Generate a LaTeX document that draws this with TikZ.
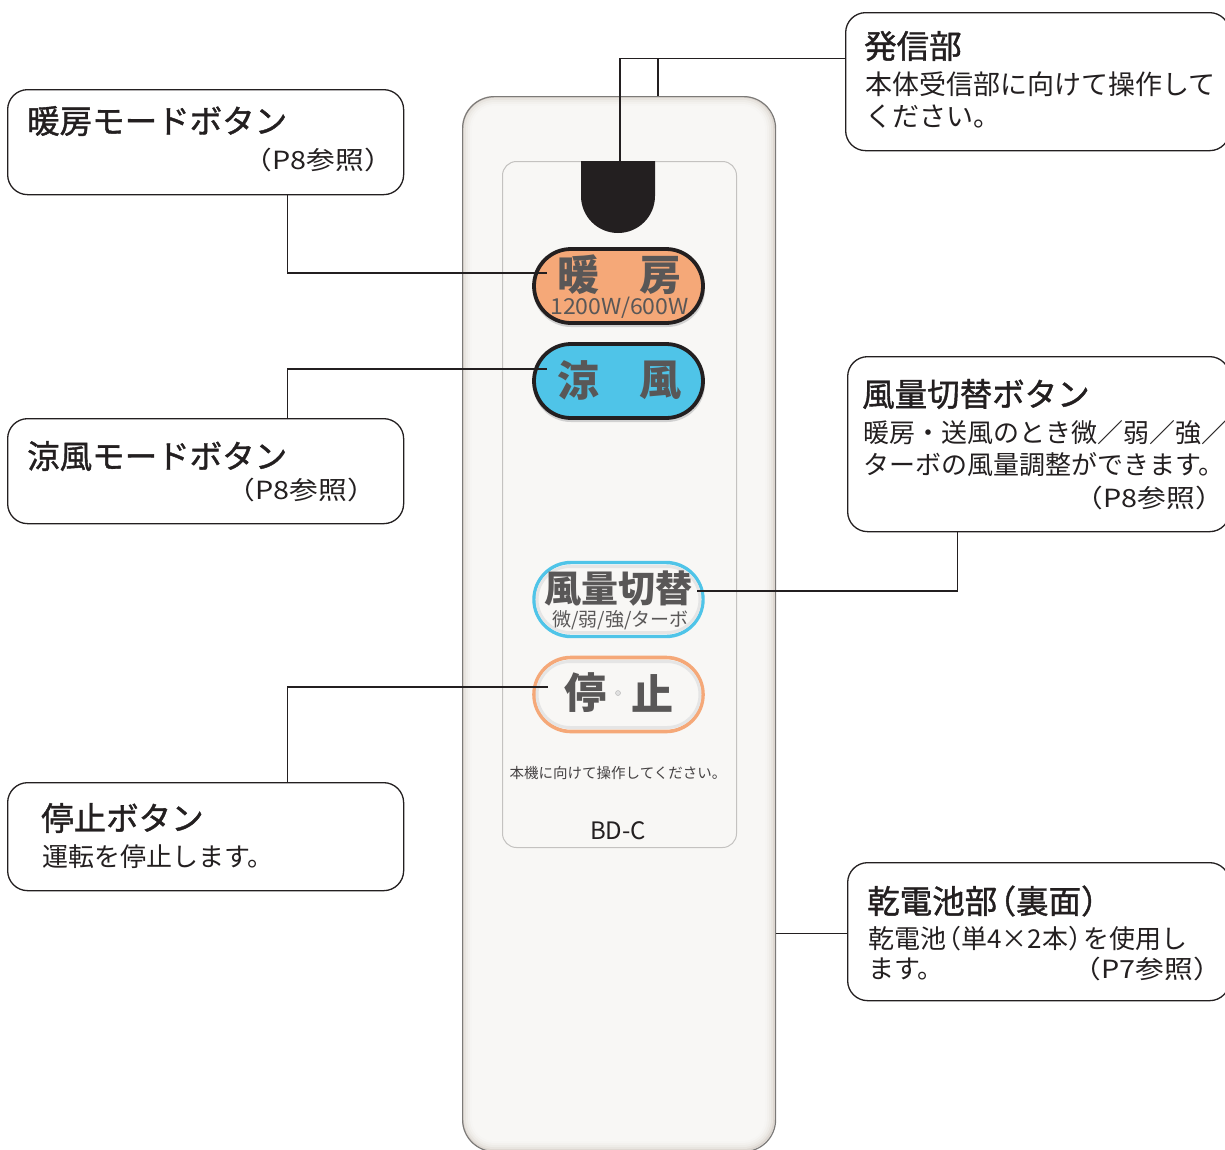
\documentclass[tikz,border=0pt]{standalone}
\usepackage{fontspec}
\setmainfont{Noto Sans CJK JP}
\newfontfamily\jpmed{Noto Sans CJK JP}[FakeBold=1.2]
\newfontfamily\jpwide{Noto Sans CJK JP}[FakeStretch=1.15]
\newfontfamily\jpbtnw{Noto Sans CJK JP}[FakeStretch=1.05]
\newcommand{\lp}{\kern-0.42em（}
\newcommand{\rp}{）\kern-0.42em}
\definecolor{ink}{HTML}{231F20}
\definecolor{btntext}{HTML}{595757}
\definecolor{heatfill}{HTML}{F5A878}
\definecolor{coolfill}{HTML}{4FC4E8}
\definecolor{bodyfill}{HTML}{F8F7F5}
\definecolor{bodyshade}{HTML}{DDD7D1}
\definecolor{bodyedge}{HTML}{7C7A78}
\definecolor{panelline}{HTML}{C4C2C0}
\begin{document}
\begin{tikzpicture}[x=1pt,y=-1pt,
  callout/.style={draw=ink, line width=1.3pt, rounded corners=20pt, fill=white, inner sep=0pt, anchor=north west},
  conn/.style={draw=ink, line width=1.3pt},
  titletxt/.style={font=\jpmed\fontsize{32.5pt}{32.5pt}\selectfont, inner sep=0pt, text=ink, anchor=west},
  bodytxt/.style={font=\fontsize{26pt}{26pt}\selectfont, inner sep=0pt, text=ink, anchor=west},
  reftxt/.style={font=\jpwide\fontsize{25pt}{25pt}\selectfont, inner sep=0pt, text=ink, anchor=east},
  btn/.style={rectangle, rounded corners=37pt, minimum width=169pt, minimum height=74pt, inner sep=0pt},
  bigbtn/.style={font=\bfseries\fontsize{42pt}{42pt}\selectfont, text=btntext, inner sep=0pt},
]
\useasboundingbox (0,0) rectangle (1225,1149);

% ---- remote body with soft inner shading
\foreach \i/\c in {0/0,2/40,4/65,6/82,8/93,10/100}{
  \fill[bodyfill!\c!bodyshade, rounded corners=32pt-\i pt] (462+\i,96+\i) rectangle (775-\i,1151-\i);
}
\node[draw=bodyedge, line width=1.2pt, rounded corners=32pt, minimum width=313pt, minimum height=1055pt, inner sep=0pt, anchor=north west] (body) at (462,96) {};

% inner panel
\node[draw=panelline, line width=1pt, rounded corners=14pt, minimum width=234pt, minimum height=686pt, inner sep=0pt, anchor=north west] (panel) at (502,161) {};

% emitter
\fill[ink] (581,161) -- (581,196) arc[start angle=180, end angle=360, radius=37pt] -- (655,161) -- cycle;
\coordinate (emit) at (620,161);

% ---- buttons
\fill[black!18] (619,289) [rounded corners=38pt] +(-86,-38) rectangle +(86,38);
\fill[black!18] (619,384) [rounded corners=38pt] +(-86,-38) rectangle +(86,38);
\node[btn, fill=heatfill, draw=ink, line width=3.8pt] (heat) at (618.5,286) {};
\node[btn, fill=coolfill, draw=ink, line width=3.8pt] (cool) at (618.5,381) {};
\node[btn, fill=bodyfill, draw=coolfill, line width=3.4pt] (fan) at (618.5,599.5) {};
\node[btn, fill=bodyfill, draw=heatfill, line width=3.6pt] (stop) at (618.5,694.5) {};
\draw[black!10, line width=3pt, rounded corners=33pt] (452+85,599.5-33) rectangle (785-85,599.5+33);
\draw[black!10, line width=3pt, rounded corners=33pt] (452+85,694.5-33) rectangle (785-85,694.5+33);

\node[bigbtn] (heatA) at (578,275) {暖};
\node[bigbtn] (heatB) at (660,275) {房};
\node[font=\jpbtnw\fontsize{22pt}{22pt}\selectfont, text=btntext, inner sep=0pt] (heatW) at (619.5,307.5) {1200W/600W};
\node[bigbtn] (coolA) at (578,380) {涼};
\node[bigbtn] (coolB) at (660,380) {風};
\node[font=\bfseries\fontsize{37pt}{37pt}\selectfont, text=btntext, inner sep=0pt] (fanA) at (618.5,589) {風量切替};
\node[font=\fontsize{19pt}{19pt}\selectfont, text=btntext, inner sep=0pt] (fanB) at (620.5,620) {微/弱/強/ターボ};
\node[bigbtn] (stopA) at (585,693) {停};
\node[bigbtn] (stopB) at (652,693) {止};
\fill[black!12, draw=black!30, line width=0.4pt] (618,693) circle[radius=2.5pt];

\node[font=\fontsize{14.5pt}{14.5pt}\selectfont, text=ink!85, inner sep=0pt] (aim) at (618,773) {本機に向けて操作してください。};
\node[font=\fontsize{24pt}{24pt}\selectfont, text=ink, inner sep=0pt] (model) at (618,831) {BD-C};

% ---- callouts
\node[callout, minimum width=396pt, minimum height=105pt] (b1) at (7,89) {};
\node[titletxt] (t1a) at (27,121) {暖房モードボタン};
\node[reftxt] (t1b) at (393,160) {（P8参照）};

\node[callout, minimum width=396pt, minimum height=105pt] (b2) at (7,418) {};
\node[titletxt] (t2a) at (27,456) {涼風モードボタン};
\node[reftxt] (t2b) at (376,490) {（P8参照）};

\node[callout, minimum width=396pt, minimum height=108pt] (b3) at (7,782) {};
\node[titletxt] (t3a) at (41,818) {停止ボタン};
\node[bodytxt] (t3b) at (42,857) {運転を停止します。};

\node[callout, minimum width=384pt, minimum height=138pt] (b4) at (845,12) {};
\node[titletxt] (t4a) at (864,46) {発信部};
\node[bodytxt, font=\fontsize{27pt}{27pt}\selectfont] (t4b) at (865,84) {本体受信部に向けて操作して};
\node[bodytxt, font=\fontsize{27pt}{27pt}\selectfont] (t4c) at (865,117) {ください。};

\node[callout, minimum width=382pt, minimum height=175pt] (b5) at (847,356) {};
\node[titletxt] (t5a) at (862,394) {風量切替ボタン};
\node[bodytxt] (t5b) at (863,433) {暖房・送風のとき微／弱／強／};
\node[bodytxt] (t5c) at (863,465) {ターボの風量調整ができます。};
\node[reftxt] (t5d) at (1224,498) {（P8参照）};

\node[callout, minimum width=382pt, minimum height=138pt] (b6) at (847,862) {};
\node[titletxt] (t6a) at (867,901) {乾電池部\lp 裏面\rp};
\node[bodytxt] (t6b) at (868,939) {乾電池\lp 単4×2本\rp を使用し};
\node[bodytxt] (t6c) at (868,969) {ます。};
\node[reftxt] (t6d) at (1222,969) {（P7参照）};

% ---- connectors
\coordinate (p1) at (547,273);
\coordinate (p2) at (547,369);
\coordinate (p3) at (548,687);
\coordinate (p5) at (697,591);
\coordinate (j4) at (658,58);
\draw[conn] ([xshift=82pt]b1.south) |- (p1);
\draw[conn] ([xshift=82pt]b2.north) |- (p2);
\draw[conn] ([xshift=82pt]b3.north) |- (p3);
\draw[conn] ([xshift=-81pt]b5.south) |- (p5);
\draw[conn] ([yshift=23pt]b4.west) -| (emit);
\draw[conn] (j4) -- (j4 |- body.north);
\draw[conn] ([yshift=-2pt]b6.west) -- ([yshift=-2pt]b6.west -| body.east);
\end{tikzpicture}
\end{document}
